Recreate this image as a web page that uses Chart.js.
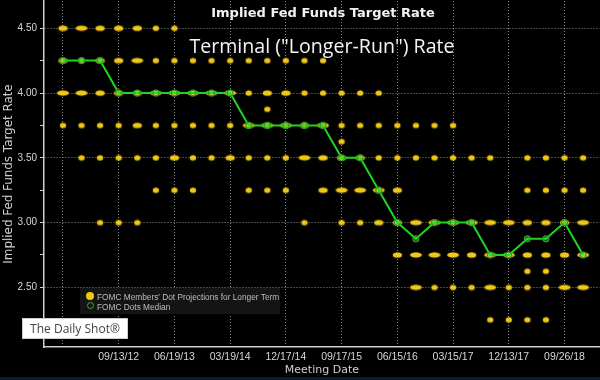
<!DOCTYPE html>
<html>
<head>
<meta charset="utf-8">
<script src="https://cdn.jsdelivr.net/npm/chart.js@4/dist/chart.umd.min.js"></script>
<style>
  html, body { margin: 0; padding: 0; background: #000; }
  #wrap { position: relative; width: 600px; height: 380px; overflow: hidden; background: #000; }
  #c { position: absolute; left: 0; top: -8px; }
  .ov { position: absolute; white-space: nowrap; }
  #title { left: 323px; top: 5px; transform: translateX(-50%); color: #f2f2f2; font: bold 13px "DejaVu Sans", sans-serif; }
  #sub { left: 322px; top: 32px; transform: translateX(-50%); color: #f4f4f4; font: 19.6px "Open Sans", sans-serif; }
  #legend { left: 80px; top: 288px; width: 200px; height: 26px; background: #141414; }
  #legend .it { position: absolute; left: 17px; color: #bdbdbd; font: 8.3px "Liberation Sans", sans-serif; }
  #legend .mk { position: absolute; left: 6px; width: 8px; height: 8px; border-radius: 50%; box-sizing: border-box; }
  #brand { left: 22px; top: 318px; width: 106px; height: 21px; background: #fff; border: 1px solid #ccc; box-sizing: border-box; color: #444; font: 12px "Open Sans", sans-serif; line-height: 19px; text-align: center; }
  #bar { left: 0; top: 377px; width: 600px; height: 3px; background: #0d1a30; }
</style>
</head>
<body>
<div id="wrap">
  <canvas id="c" width="605" height="388"></canvas>
  <div class="ov" id="title">Implied Fed Funds Target Rate</div>
  <div class="ov" id="sub">Terminal ("Longer-Run") Rate</div>
  <div class="ov" id="legend">
    <div class="mk" style="top:4px;background:#f2c814;"></div>
    <div class="it" style="top:4px;">FOMC Members' Dot Projections for Longer Term</div>
    <div class="mk" style="top:14px;width:7px;height:7px;left:6.5px;border:1.5px solid #2eb82e;"></div>
    <div class="it" style="top:13.5px;">FOMC Dots Median</div>
  </div>
  <div class="ov" id="brand">The Daily Shot®</div>
  <div class="ov" id="bar"></div>
</div>
<script>
// ---- data ----
const meetingDates = ['01/25/12','04/25/12','06/20/12','09/13/12','12/12/12','03/20/13','06/19/13','09/18/13','12/18/13',
  '03/19/14','06/18/14','09/17/14','12/17/14','03/18/15','06/17/15','09/17/15','12/16/15','03/16/16','06/15/16',
  '09/21/16','12/14/16','03/15/17','06/14/17','09/20/17','12/13/17','03/21/18','06/13/18','09/26/18','12/19/18'];
const xLabelledMeetings = ['09/13/12','06/19/13','03/19/14','12/17/14','09/17/15','06/15/16','03/15/17','12/13/17','09/26/18'];
const yTickValues = [2.25, 2.5, 2.75, 3.0, 3.25, 3.5, 3.75, 4.0, 4.25, 4.5];
const yLabelledTicks = [2.5, 3.0, 3.5, 4.0, 4.5];

// number of participants' dots at each level, per meeting
const dots450  = [2,3,2,2,2,1,1,0,0,0,0,0,0,0,0,0,0,0,0,0,0,0,0,0,0,0,0,0,0];
const dots425  = [2,1,2,2,3,1,1,1,1,1,1,1,1,1,1,0,0,0,0,0,0,0,0,0,0,0,0,0,0];
const dots400  = [3,3,2,2,2,3,3,3,3,3,1,2,2,1,1,1,1,1,0,0,0,0,0,0,0,0,0,0,0];
const dots3875 = [0,0,0,0,0,0,0,0,0,0,0,1,0,0,0,0,0,0,0,0,0,0,0,0,0,0,0,0,0];
const dots375  = [1,1,1,1,2,1,1,1,1,1,3,3,3,2,3,1,1,1,1,1,1,1,0,0,0,0,0,0,0];
const dots3625 = [0,0,0,0,0,0,0,0,0,0,0,0,0,0,0,1,0,0,0,0,0,0,0,0,0,0,0,0,0];
const dots350  = [0,1,1,1,1,1,2,1,1,2,1,1,1,3,2,2,2,1,1,1,1,1,1,1,0,1,1,1,1];
const dots325  = [0,0,0,0,0,1,1,1,0,0,1,1,1,0,2,3,3,3,2,0,0,0,0,0,0,1,1,1,1];
const dots300  = [0,0,1,1,1,0,0,0,0,0,0,0,0,1,0,1,1,2,2,3,3,3,3,3,3,2,2,2,3];
const dots275  = [0,0,0,0,0,0,0,0,0,0,0,0,0,0,0,0,0,0,2,3,3,3,2,3,3,2,2,2,3];
const dots2625 = [0,0,0,0,0,0,0,0,0,0,0,0,0,0,0,0,0,0,0,0,0,0,0,0,0,1,1,0,0];
const dots250  = [0,0,0,0,0,0,0,0,0,0,0,0,0,0,0,0,0,0,0,3,1,1,1,3,1,1,1,3,3];
const dots225  = [0,0,0,0,0,0,0,0,0,0,0,0,0,0,0,0,0,0,0,0,0,0,0,1,1,1,1,0,0];
const medianRate = [4.25,4.25,4.25,4,4,4,4,4,4,4,3.75,3.75,3.75,3.75,3.75,3.5,3.5,3.25,3,2.875,3,3,3,2.75,2.75,2.875,2.875,3,2.75];

const levelRows = [[4.5,dots450],[4.25,dots425],[4.0,dots400],[3.875,dots3875],[3.75,dots375],[3.625,dots3625],
  [3.5,dots350],[3.25,dots325],[3.0,dots300],[2.75,dots275],[2.625,dots2625],[2.5,dots250],[2.25,dots225]];

// ---- build ----
const dotPoints = [];
levelRows.forEach(([lvl, arr]) => arr.forEach((n, i) => { if (n > 0) dotPoints.push({x: i, y: lvl, n: n}); }));
const medianPoints = medianRate.map((v, i) => ({x: i, y: v}));

function dotImage(n) {
  const w = [0, 6, 9, 11.5, 13][n] || 13, h = 5.2;
  const c = document.createElement('canvas');
  c.width = Math.ceil(w) + 4; c.height = Math.ceil(h) + 4;
  const g = c.getContext('2d');
  g.shadowColor = 'rgba(240,200,20,0.6)'; g.shadowBlur = 1.5;
  g.fillStyle = '#f0c818';
  g.beginPath(); g.ellipse(c.width / 2, c.height / 2, w / 2, h / 2, 0, 0, Math.PI * 2); g.fill();
  return c;
}
const imgs = [null, dotImage(1), dotImage(2), dotImage(3), dotImage(4)];

const gridGray = 'rgba(185,185,185,0.75)';
new Chart(document.getElementById('c'), {
  type: 'scatter',
  data: {
    datasets: [
      { type: 'line', data: medianPoints, order: 1, borderColor: '#1fd61f', borderWidth: 2, tension: 0,
        pointRadius: 3, pointBorderWidth: 1.2, pointBorderColor: '#2a9e2a', pointBackgroundColor: 'rgba(90,215,60,0.4)' },
      { data: dotPoints, order: 2, pointRadius: 3, pointStyle: ctx => imgs[ctx.raw ? ctx.raw.n : 1] }
    ]
  },
  options: {
    responsive: false, animation: false, devicePixelRatio: 1,
    layout: { padding: 0 },
    plugins: { legend: { display: false }, tooltip: { enabled: false } },
    scales: {
      x: {
        type: 'linear', min: -1.02, max: 28.9,
        afterBuildTicks: s => { s.ticks = meetingDates.map((d, i) => i).filter(i => i % 3 === 0).map(v => ({value: v})); },
        afterFit: s => { s.height = 33; },
        ticks: { color: '#d6d6d6', font: { family: 'Liberation Sans', size: 10.5 }, padding: 4, maxRotation: 0, autoSkip: false,
          callback: v => xLabelledMeetings.includes(meetingDates[v]) ? meetingDates[v] : '' },
        grid: { color: gridGray, lineWidth: 1, drawTicks: false },
        border: { color: '#d0d0d0', width: 1.5, dash: [1, 2] },
        title: { display: true, text: 'Meeting Date', color: '#cfcfcf', font: { family: 'DejaVu Sans', size: 11 }, padding: { top: 0, bottom: 3 } }
      },
      y: {
        min: 2.04, max: 4.71,
        afterBuildTicks: s => { s.ticks = yTickValues.map(v => ({value: v})); },
        afterFit: s => { s.width = 44; },
        ticks: { color: '#d6d6d6', font: { family: 'Liberation Sans', size: 10 }, padding: 3,
          callback: v => yLabelledTicks.includes(v) ? v.toFixed(2) : '' },
        grid: { color: ctx => (ctx.tick && yLabelledTicks.includes(ctx.tick.value)) ? gridGray : 'rgba(0,0,0,0)',
          tickColor: '#d0d0d0', tickLength: 4, lineWidth: 1 },
        border: { color: '#d0d0d0', width: 1.5, dash: [1, 2] },
        title: { display: true, text: 'Implied Fed Funds Target Rate', color: '#cfcfcf', font: { family: 'DejaVu Sans', size: 11.9 }, padding: { top: 1.5, bottom: 0 } }
      }
    }
  }
});
</script>
</body>
</html>
